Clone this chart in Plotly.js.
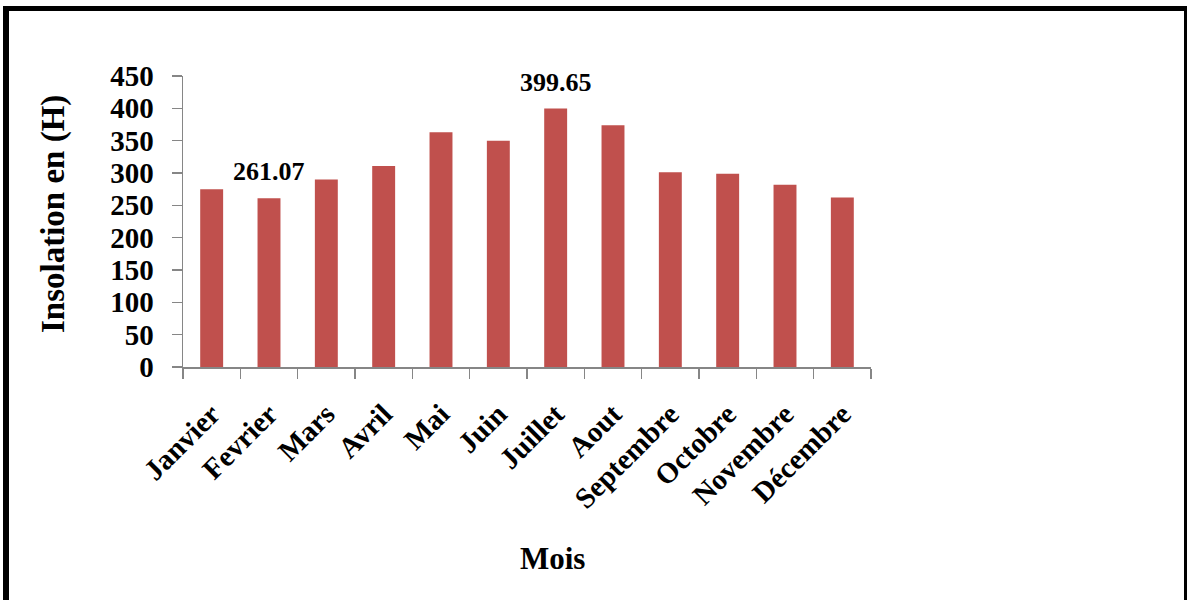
<!DOCTYPE html>
<html>
<head>
<meta charset="utf-8">
<script src="https://cdn.plot.ly/plotly-3.0.1.min.js"></script>
<style>
  html, body { margin: 0; padding: 0; background: #fff; overflow: hidden; }
  #wrap { position: relative; width: 1187px; height: 600px; }
  #chart { width: 1187px; height: 600px; }
  #frame {
    position: absolute; left: 3px; top: 6px; width: 1184px; height: 600px;
    box-sizing: border-box; border-left: 6px solid #000; border-top: 5px solid #000;
    border-right: 3px solid #000; pointer-events: none;
  }
</style>
</head>
<body>
<div id="wrap">
  <div id="chart"></div>
  <div id="frame"></div>
</div>
<script>
// Monthly sunshine duration (hours)
const months = ["Janvier", "Fevrier", "Mars", "Avril", "Mai", "Juin",
                "Juillet", "Aout", "Septembre", "Octobre", "Novembre", "Décembre"];
const insolation = [275, 261.07, 290, 311, 363, 350, 399.65, 374, 301, 299, 282, 262];
// Months whose value is written above the bar
const labelledMonths = ["Fevrier", "Juillet"];
const yTicks = [0, 50, 100, 150, 200, 250, 300, 350, 400, 450];

const serif = "Liberation Serif, Times New Roman, serif";
const axisGrey = "#868686";

// page size and plot-area margins (px)
const W = 1187, H = 600, L = 183, R = 316, T = 76, B = 233;
const plotW = W - L - R, plotH = H - T - B;
// convert a page pixel position into paper coordinates
const px = x => (x - L) / plotW;
const py = y => (H - B - y) / plotH;

const annotations = labelledMonths.map(m => {
  const v = insolation[months.indexOf(m)];
  return {
    x: m, y: v, xref: "x", yref: "y",
    text: String(v), showarrow: false,
    yanchor: "bottom", yshift: 10,
    font: { family: serif, size: 26, color: "#000", weight: "bold" }
  };
});
// axis titles
annotations.push({
  x: px(552), y: py(558), xref: "paper", yref: "paper",
  xanchor: "center", yanchor: "middle",
  text: "Mois", showarrow: false,
  font: { family: serif, size: 31, color: "#000", weight: "bold" }
});
annotations.push({
  x: px(53), y: py(214), xref: "paper", yref: "paper",
  xanchor: "center", yanchor: "middle", textangle: -90,
  text: "Insolation en (H)", showarrow: false,
  font: { family: serif, size: 33, color: "#000", weight: "bold" }
});

const trace = {
  type: "bar",
  x: months,
  y: insolation,
  marker: { color: "#C0504D" },
  hoverinfo: "x+y"
};

const layout = {
  width: W, height: H,
  margin: { l: L, r: R, t: T, b: B, pad: 0 },
  paper_bgcolor: "#fff", plot_bgcolor: "#fff",
  showlegend: false,
  bargap: 0.6,
  font: { family: serif, color: "#000" },
  xaxis: {
    type: "category",
    showline: true, linecolor: axisGrey, linewidth: 1.5,
    ticks: "outside", tickson: "boundaries", ticklen: 10, tickcolor: axisGrey, tickwidth: 1.5,
    tickangle: -45,
    ticklabelstandoff: 17,
    tickfont: { family: serif, size: 29, color: "#000", weight: "bold" },
    showgrid: false, zeroline: false, automargin: false
  },
  yaxis: {
    range: [0, 450],
    tickvals: yTicks,
    ticktext: yTicks.map(String),
    showline: true, linecolor: axisGrey, linewidth: 1.5,
    ticks: "outside", ticklen: 10, tickcolor: axisGrey, tickwidth: 1.5,
    ticklabelstandoff: 12,
    tickfont: { family: serif, size: 29, color: "#000", weight: "bold" },
    showgrid: false, zeroline: false, automargin: false
  },
  annotations: annotations
};

Plotly.newPlot("chart", [trace], layout, { displayModeBar: false, staticPlot: true });
</script>
</body>
</html>
